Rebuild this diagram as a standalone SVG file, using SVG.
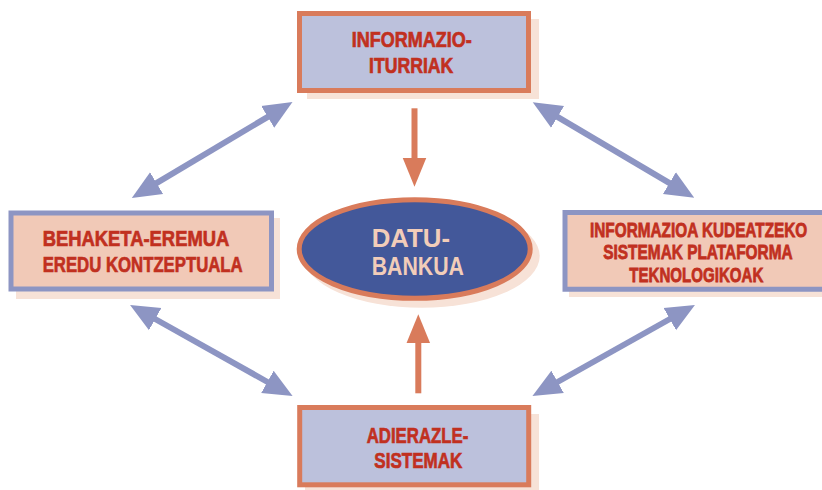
<svg xmlns="http://www.w3.org/2000/svg" width="822" height="490" viewBox="0 0 822 490">
<style>
.shadow{fill:#f7e2d7}
.lav{fill:#bcc1dc;stroke:#d97b5b;stroke-width:5}
.pch{fill:#f1c9b7;stroke:#8d95c3;stroke-width:5}
.t{font-family:"Liberation Sans","DejaVu Sans",sans-serif;font-weight:bold;fill:#c1301f;stroke:#c1301f;stroke-width:0.7;font-size:22px}
.ts{font-size:20.5px;stroke-width:0.8}
.te{font-family:"Liberation Sans","DejaVu Sans",sans-serif;font-weight:bold;fill:#f2cdb9;font-size:26.5px}
.blue{stroke:#8d95c3;stroke-width:6;fill:none}
.org{stroke:#d97b5b;stroke-width:6;fill:none}
</style>
<defs>
<marker id="hb" markerUnits="userSpaceOnUse" markerWidth="30" markerHeight="30" viewBox="0 -12 26 24" refX="1" refY="0" orient="auto-start-reverse">
<path d="M0,-11 L25,0 L0,11 z" fill="#8d95c3"/>
</marker>
<marker id="ho" markerUnits="userSpaceOnUse" markerWidth="30" markerHeight="30" viewBox="0 -12 28 24" refX="1" refY="0" orient="auto">
<path d="M0,-11 L27,0 L0,11 z" fill="#d97b5b"/>
</marker>
</defs>
<rect width="822" height="490" fill="#ffffff"/>
<g id="connectors">
<line class="blue" x1="155.6" y1="183.7" x2="268.7" y2="116.3" marker-start="url(#hb)" marker-end="url(#hb)"/>
<line class="blue" x1="556.6" y1="116.3" x2="670.4" y2="183.7" marker-start="url(#hb)" marker-end="url(#hb)"/>
<line class="blue" x1="154.2" y1="318.5" x2="268.4" y2="382.5" marker-start="url(#hb)" marker-end="url(#hb)"/>
<line class="blue" x1="670.8" y1="318.5" x2="556.6" y2="382.5" marker-start="url(#hb)" marker-end="url(#hb)"/>
<line class="org" x1="414.5" y1="108.3" x2="414.5" y2="159" marker-end="url(#ho)"/>
<line class="org" x1="418.3" y1="393.3" x2="418.3" y2="342" marker-end="url(#ho)"/>
</g>
<g id="informazio-iturriak">
<rect class="shadow" x="307" y="19" width="232" height="80"/>
<rect class="lav" x="299.5" y="13.5" width="229" height="77"/>
<text class="t" x="351.7" y="46.7" textLength="120" lengthAdjust="spacingAndGlyphs">INFORMAZIO-</text>
<text class="t" x="369" y="72.7" textLength="84.3" lengthAdjust="spacingAndGlyphs">ITURRIAK</text>
</g>
<g id="behaketa-eremua">
<rect class="shadow" x="16" y="218" width="264" height="81"/>
<rect class="pch" x="11" y="213" width="260.5" height="76"/>
<text class="t" x="42.7" y="245.7" textLength="186.6" lengthAdjust="spacingAndGlyphs">BEHAKETA-EREMUA</text>
<text class="t" x="42.7" y="271.7" textLength="200" lengthAdjust="spacingAndGlyphs">EREDU KONTZEPTUALA</text>
</g>
<g id="informazioa-kudeatzeko">
<rect class="shadow" x="569" y="217" width="253" height="80"/>
<rect x="565" y="212.5" width="257" height="76.7" fill="#f1c9b7"/>
<path d="M822,212.5 H565 V289.2 H822" fill="none" stroke="#8d95c3" stroke-width="5"/>
<text class="t ts" transform="translate(590,237.3) scale(0.72,1)" textLength="301.8" lengthAdjust="spacingAndGlyphs">INFORMAZIOA KUDEATZEKO</text>
<text class="t ts" transform="translate(603.3,259.3) scale(0.72,1)" textLength="263" lengthAdjust="spacingAndGlyphs">SISTEMAK PLATAFORMA</text>
<text class="t ts" transform="translate(629.3,281.7) scale(0.72,1)" textLength="186.1" lengthAdjust="spacingAndGlyphs">TEKNOLOGIKOAK</text>
</g>
<g id="datu-bankua">
<ellipse class="shadow" cx="421.7" cy="256" rx="118" ry="51.7"/>
<ellipse cx="414.7" cy="249" rx="115.5" ry="49.3" fill="#43589a" stroke="#d97b5b" stroke-width="5"/>
<text class="te" x="371.7" y="247.3" textLength="78.3" lengthAdjust="spacingAndGlyphs">DATU-</text>
<text class="te" x="371.7" y="275" textLength="92.3" lengthAdjust="spacingAndGlyphs">BANKUA</text>
</g>
<g id="adierazle-sistemak">
<rect class="shadow" x="305" y="414" width="234" height="80"/>
<rect class="lav" x="299.7" y="407.5" width="229" height="77.3"/>
<text class="t" x="366.7" y="442.7" textLength="101.6" lengthAdjust="spacingAndGlyphs">ADIERAZLE-</text>
<text class="t" x="374.3" y="468.3" textLength="88" lengthAdjust="spacingAndGlyphs">SISTEMAK</text>
</g>
</svg>
